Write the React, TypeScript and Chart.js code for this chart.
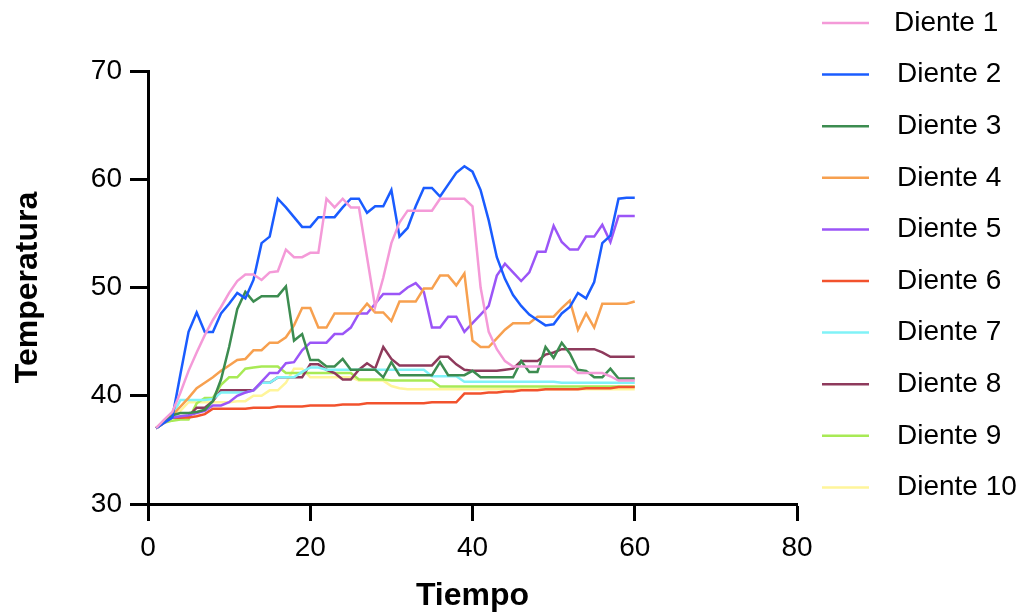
import { useEffect, useRef } from "react";
import { Chart, registerables } from "chart.js";

Chart.register(...registerables);

const tiempo = [
  1, 2, 3, 4, 5, 6, 7, 8, 9, 10, 11, 12, 13, 14, 15, 16, 17, 18, 19, 20,
  21, 22, 23, 24, 25, 26, 27, 28, 29, 30, 31, 32, 33, 34, 35, 36, 37, 38, 39, 40,
  41, 42, 43, 44, 45, 46, 47, 48, 49, 50, 51, 52, 53, 54, 55, 56, 57, 58, 59, 60,
];

const diente1 = [
  37, 37.8, 38.5, 40.3, 42.3, 44, 45.6, 47, 48.2, 49.5,
  50.6, 51.2, 51.2, 50.7, 51.4, 51.5, 53.5, 52.8, 52.8, 53.2,
  53.2, 58.2, 57.4, 58.2, 57.4, 57.4, 52.8, 48.2, 50.9, 54.1,
  56, 57.1, 57.1, 57.1, 57.1, 58.2, 58.2, 58.2, 58.2, 57.5,
  50, 45.9, 44.3, 43.2, 42.7, 42.7, 42.7, 42.7, 42.7, 42.7,
  42.7, 42.7, 42.1, 42.1, 42.1, 42.1, 41.8, 41.4, 41.4, 41.4,
];
const diente2 = [
  37, 37.5, 38, 42, 45.9, 47.7, 45.9, 45.9, 47.6, 48.5,
  49.5, 49, 50.7, 54.1, 54.7, 58.2, 57.4, 56.5, 55.6, 55.6,
  56.5, 56.5, 56.5, 57.4, 58.2, 58.2, 56.9, 57.5, 57.5, 59,
  54.7, 55.5, 57.5, 59.2, 59.2, 58.4, 59.5, 60.6, 61.2, 60.7,
  59, 56.2, 52.8, 50.8, 49.3, 48.3, 47.5, 47, 46.5, 46.6,
  47.6, 48.2, 49.5, 49, 50.5, 54.1, 54.8, 58.2, 58.3, 58.3,
];
const diente3 = [
  37, 37.6, 38.2, 38.4, 38.4, 38.5, 38.7, 39.5, 41.5, 44.5,
  48, 49.6, 48.7, 49.2, 49.2, 49.2, 50.1, 45.1, 45.7, 43.3,
  43.3, 42.7, 42.7, 43.4, 42.4, 42.4, 42.4, 42.4, 41.7, 43.1,
  41.9, 41.9, 41.9, 41.9, 41.9, 43.1, 41.9, 41.9, 41.9, 42.3,
  41.7, 41.7, 41.7, 41.7, 41.7, 43.2, 42.2, 42.2, 44.5, 43.5,
  44.9, 43.9, 42.4, 42.3, 41.7, 41.7, 42.5, 41.6, 41.6, 41.6,
];
const diente4 = [
  37, 37.5, 38.2, 39, 39.8, 40.7, 41.2, 41.7, 42.3, 42.8,
  43.3, 43.4, 44.2, 44.2, 44.9, 44.9, 45.4, 46.5, 48.1, 48.1,
  46.3, 46.3, 47.6, 47.6, 47.6, 47.6, 48.5, 47.7, 47.7, 46.9,
  48.7, 48.7, 48.7, 49.9, 49.9, 51.1, 51.1, 50.2, 51.3, 45.1,
  44.5, 44.5, 45.3, 46.1, 46.7, 46.7, 46.7, 47.3, 47.3, 47.3,
  48.1, 48.8, 46.1, 47.6, 46.3, 48.5, 48.5, 48.5, 48.5, 48.7,
];
const diente5 = [
  37, 37.5, 38, 38.1, 38.2, 38.4, 38.6, 39.1, 39.1, 39.4,
  40, 40.3, 40.5, 41.3, 42.1, 42.1, 43, 43.1, 44.2, 44.9,
  44.9, 44.9, 45.7, 45.7, 46.3, 47.6, 47.6, 48.5, 49.4, 49.4,
  49.4, 50, 50.4, 49.6, 46.3, 46.3, 47.3, 47.3, 45.9, 46.7,
  47.5, 48.3, 51.1, 52.2, 51.4, 50.6, 51.4, 53.3, 53.3, 55.7,
  54.2, 53.5, 53.5, 54.7, 54.7, 55.8, 54.2, 56.6, 56.6, 56.6,
];
const diente6 = [
  37, 37.7, 38, 38, 38, 38.1, 38.3, 38.8, 38.8, 38.8,
  38.8, 38.8, 38.9, 38.9, 38.9, 39, 39, 39, 39, 39.1,
  39.1, 39.1, 39.1, 39.2, 39.2, 39.2, 39.3, 39.3, 39.3, 39.3,
  39.3, 39.3, 39.3, 39.3, 39.4, 39.4, 39.4, 39.4, 40.2, 40.2,
  40.2, 40.3, 40.3, 40.4, 40.4, 40.5, 40.5, 40.5, 40.6, 40.6,
  40.6, 40.6, 40.6, 40.7, 40.7, 40.7, 40.7, 40.8, 40.8, 40.8,
];
const diente7 = [
  37, 37.5, 38.2, 39.6, 39.6, 39.6, 39.6, 39.7, 40.3, 40.3,
  40.3, 40.3, 40.5, 41.2, 41.2, 41.7, 41.7, 41.7, 42.2, 42.6,
  42.6, 42.4, 42.4, 42.4, 42.4, 42.4, 42.4, 42.4, 42.4, 42.4,
  42.4, 42.4, 42.4, 42.4, 41.8, 41.8, 41.8, 41.8, 41.3, 41.3,
  41.3, 41.3, 41.3, 41.3, 41.3, 41.3, 41.3, 41.3, 41.3, 41.3,
  41.2, 41.2, 41.2, 41.2, 41.2, 41.2, 41.2, 41.2, 41.2, 41.2,
];
const diente8 = [
  37, 37.6, 38, 38, 38.1, 38.9, 38.9, 39.5, 40.5, 40.5,
  40.5, 40.5, 40.5, 41.2, 41.2, 41.7, 41.7, 41.7, 41.7, 42.9,
  42.9, 42.4, 42.1, 41.5, 41.5, 42.4, 43, 42.5, 44.5, 43.4,
  42.8, 42.8, 42.8, 42.8, 42.8, 43.6, 43.6, 42.9, 42.4, 42.3,
  42.3, 42.3, 42.3, 42.4, 42.5, 43.2, 43.2, 43.2, 43.8, 44,
  44.3, 44.3, 44.3, 44.3, 44.3, 44, 43.6, 43.6, 43.6, 43.6,
];
const diente9 = [
  37, 37.5, 37.7, 37.8, 37.8, 39.3, 39.8, 39.8, 41, 41.7,
  41.7, 42.5, 42.6, 42.7, 42.7, 42.7, 42.1, 42.1, 42.1, 42.1,
  42.1, 42.1, 42.1, 42.1, 42.1, 41.5, 41.5, 41.5, 41.5, 41.4,
  41.4, 41.4, 41.4, 41.4, 41.4, 40.85, 40.85, 40.85, 40.85, 40.85,
  40.85, 40.85, 40.85, 40.85, 40.85, 40.85, 40.85, 40.85, 40.85, 40.85,
  40.85, 40.85, 40.85, 40.85, 40.85, 40.85, 40.85, 40.85, 40.85, 40.85,
];
const diente10 = [
  37, 37.6, 38.1, 38.6, 39.4, 39.4, 39.4, 39.4, 39.4, 39.4,
  39.5, 39.5, 40, 40, 40.5, 40.5, 41.2, 42.5, 42.5, 41.7,
  41.7, 41.7, 41.7, 41.7, 41.7, 41.4, 41.4, 41.4, 41.4, 40.9,
  40.7, 40.6, 40.6, 40.6, 40.6, 40.6, 40.6, 40.6, 40.6, 40.6,
  40.6, 40.6, 40.6, 40.6, 40.6, 40.6, 40.6, 40.6, 40.6, 40.6,
  40.6, 40.6, 40.6, 40.6, 40.6, 40.6, 40.6, 40.6, 40.6, 40.6,
];

const etiquetas = [
  "Diente 1", "Diente 2", "Diente 3", "Diente 4", "Diente 5",
  "Diente 6", "Diente 7", "Diente 8", "Diente 9", "Diente 10",
];
const colores = [
  "#F49AD8", "#1A5CFF", "#3C8C50", "#F7A04F", "#9B55F7",
  "#F2522D", "#80F2F7", "#8E3A5C", "#A8EA55", "#FFF59A",
];

const FAMILY = '"Liberation Sans", Arial, Helvetica, sans-serif';

export default function App() {
  const ref = useRef<HTMLCanvasElement>(null);

  useEffect(() => {
    if (!ref.current) return;
    const series = [diente1, diente2, diente3, diente4, diente5, diente6, diente7, diente8, diente9, diente10];

    const legendPlugin = {
      id: "customLegend",
      afterDraw(chart: any) {
        const ctx = chart.ctx as CanvasRenderingContext2D;
        ctx.save();
        chart.data.datasets.forEach((ds: any, i: number) => {
          const y = 23 + i * 51.6;
          ctx.strokeStyle = ds.borderColor;
          ctx.lineWidth = 2.5;
          ctx.beginPath();
          ctx.moveTo(822, y);
          ctx.lineTo(869, y);
          ctx.stroke();
          ctx.fillStyle = "#000";
          ctx.font = `28px ${FAMILY}`;
          ctx.textBaseline = "middle";
          ctx.textAlign = "left";
          ctx.fillText(ds.label, i === 0 ? 894 : 897, y);
        });
        ctx.restore();
      },
    };

    const chart = new Chart(ref.current, {
      type: "line",
      data: {
        datasets: series.map((s, i) => ({
          label: etiquetas[i],
          data: tiempo.map((t, j) => ({ x: t, y: s[j] })),
          borderColor: colores[i],
          backgroundColor: colores[i],
          borderWidth: 2.5,
          pointRadius: 0,
          fill: false,
          tension: 0,
        })),
      },
      options: {
        animation: false,
        responsive: false,
        devicePixelRatio: 1,
        layout: { padding: { top: 71, right: 225, bottom: 0, left: 0 } },
        plugins: { legend: { display: false }, tooltip: { enabled: false } },
        scales: {
          x: {
            type: "linear",
            min: 0,
            max: 80,
            ticks: { stepSize: 20, color: "#000", font: { size: 28, family: FAMILY }, padding: 10 },
            grid: { drawOnChartArea: false, drawTicks: true, tickLength: 17, tickWidth: 3, tickColor: "#000" },
            border: { display: true, width: 3, color: "#000" },
            title: { display: true, text: "Tiempo", color: "#000", font: { size: 32, weight: "bold", family: FAMILY }, padding: 0 },
            afterFit: (s: any) => { s.height = 111; },
          },
          y: {
            min: 30,
            max: 70,
            ticks: { stepSize: 10, color: "#000", font: { size: 28, family: FAMILY }, padding: 8 },
            grid: { drawOnChartArea: false, drawTicks: true, tickLength: 18, tickWidth: 3, tickColor: "#000" },
            border: { display: true, width: 3, color: "#000" },
            title: { display: true, text: "Temperatura", color: "#000", font: { size: 32, weight: "bold", family: FAMILY }, padding: { top: 9, bottom: 0 } },
            afterFit: (s: any) => { s.width = 148; },
          },
        },
      },
      plugins: [legendPlugin],
    } as any);

    return () => chart.destroy();
  }, []);

  return (
    <div style={{ position: "fixed", left: 0, top: 0, width: 1022, height: 615, background: "#fff" }}>
      <canvas ref={ref} width={1022} height={615} />
    </div>
  );
}
